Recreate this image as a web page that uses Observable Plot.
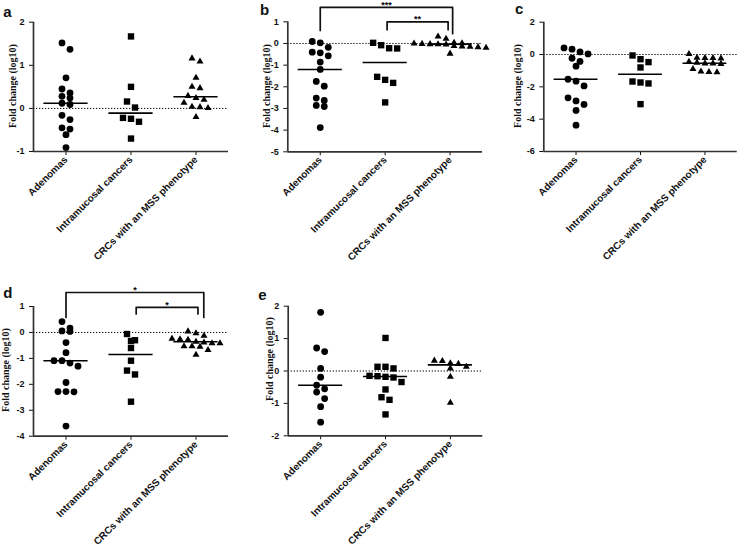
<!DOCTYPE html>
<html><head><meta charset="utf-8">
<script src="https://cdn.jsdelivr.net/npm/d3@7"></script>
<script src="https://cdn.jsdelivr.net/npm/@observablehq/plot@0.6"></script>
<style>
body{margin:0;background:#fff;}
#wrap{position:relative;width:738px;height:546px;overflow:hidden;background:#fff;}
.panel{position:absolute;}
.letter{position:absolute;font-family:"Liberation Sans",Arial,sans-serif;font-weight:bold;font-size:15px;line-height:1;color:#111;}
.ylab{position:absolute;font-family:"Liberation Serif","Times New Roman",serif;font-weight:bold;font-size:10px;line-height:1;color:#111;white-space:nowrap;transform:translate(-50%,-50%) rotate(-90deg);}
svg{overflow:visible;}
</style></head><body><div id="wrap"></div>
<script>
// ---- data ----
const groups = ["Adenomas", "Intramucosal cancers", "CRCs with an MSS phenotype"];
const yLabel = "Fold change (log10)";

const aAdenomas = [1.52, 1.37, 0.71, 0.45, 0.36, 0.28, 0.24, 0.12, 0.09, -0.16, -0.26, -0.45, -0.48, -0.61, -0.91];
const aIntramucosal = [1.67, 0.50, 0.16, 0.02, -0.22, -0.24, -0.31, -0.70];
const aCRC = [1.16, 1.09, 0.71, 0.50, 0.47, 0.29, 0.24, 0.20, 0.13, 0.04, 0.03, 0.01, -0.20];
const aMedians = [0.12, -0.11, 0.27];
const aTicks = [-1, 0, 1, 2];

const bAdenomas = [0.09, 0.03, -0.18, -0.40, -0.43, -0.57, -0.86, -1.20, -1.75, -1.97, -2.52, -2.63, -2.86, -2.91, -3.88];
const bIntramucosal = [0.03, -0.08, -0.22, -0.23, -1.54, -1.68, -1.82, -2.72];
const bCRC = [0.32, 0.22, 0.03, 0.01, 0.0, -0.02, -0.03, -0.04, -0.05, -0.12, -0.14, -0.15, -0.17, -0.20, -0.47];
const bMedians = [-1.20, -0.88, -0.03];
const bTicks = [-5, -4, -3, -2, -1, 0, 1];
const bBrackets = [
  {from: 0, to: 2.04, top: 1.67, endFrom: 0.6, endTo: 0.45, label: "***"},
  {from: 1.03, to: 1.97, top: 1.0, endFrom: 0.63, endTo: 0.63, label: "**"}
];

const cAdenomas = [0.41, 0.33, 0.16, 0.04, -0.23, -0.43, -0.72, -1.53, -1.65, -1.94, -2.68, -2.87, -3.09, -3.46, -4.37];
const cIntramucosal = [-0.06, -0.29, -0.47, -0.80, -1.67, -1.73, -1.79, -3.07];
const cCRC = [0.03, -0.20, -0.22, -0.22, -0.24, -0.45, -0.50, -0.55, -0.55, -0.58, -0.90, -1.05, -1.08, -1.10];
const cMedians = [-1.53, -1.22, -0.54];
const cTicks = [-6, -4, -2, 0, 2];

const dAdenomas = [0.42, 0.17, 0.06, 0.04, -0.39, -0.78, -1.09, -1.09, -1.18, -1.30, -1.93, -2.28, -2.28, -2.29, -3.61];
const dIntramucosal = [-0.06, -0.30, -0.33, -0.60, -1.09, -1.47, -1.62, -2.67];
const dCRC = [0.04, -0.03, -0.13, -0.24, -0.26, -0.28, -0.36, -0.39, -0.42, -0.42, -0.53, -0.53, -0.55, -0.68, -0.86];
const dMedians = [-1.09, -0.85, -0.36];
const dTicks = [-4, -3, -2, -1, 0, 1];
const dBrackets = [
  {from: 0, to: 2.12, top: 1.54, endFrom: 0.58, endTo: 0.58, label: "*"},
  {from: 1.08, to: 2.03, top: 0.97, endFrom: 0.71, endTo: 0.71, label: "*"}
];

const eAdenomas = [1.81, 0.71, 0.60, 0.08, -0.19, -0.44, -0.55, -0.65, -0.85, -1.10, -1.58];
const eIntramucosal = [1.02, 0.13, 0.13, 0.08, -0.15, -0.16, -0.18, -0.20, -0.34, -0.57, -0.81, -0.89, -1.34];
const eCRC = [0.32, 0.31, 0.24, 0.22, 0.13, 0.08, -0.18, -0.98];
const eMedians = [-0.44, -0.17, 0.19];
const eTicks = [-2, -1, 0, 1, 2];

// ---- layout ----
const SANS = "Liberation Sans, Arial, sans-serif";
const ROW = 6.8, SPACING = 8;
const symbols = [{symbol: "circle", r: 3.4}, {symbol: "square", r: 3.6}, {symbol: "triangle", r: 2.6}];
const wrap = document.getElementById("wrap");

function panel(cfg) {
  const {left, top, width, height, mL, mR, mT, mB, ticks, series, medians, brackets, labelX, labelY} = cfg;
  const domain = [ticks[0], ticks[ticks.length - 1]];
  const yPx = d3.scaleLinear(domain, [height - mB, mT]);
  const band = (width - mL - mR) / 3;
  const pts = [];
  series.forEach((vals, gi) => {
    const sorted = vals.slice().sort((a, b) => b - a);
    const rows = [];
    for (const v of sorted) {
      const py = yPx(v);
      const row = rows[rows.length - 1];
      if (row && Math.abs(py - row.y0) < ROW) row.items.push(v);
      else rows.push({y0: py, items: [v]});
    }
    for (const row of rows) {
      const n = row.items.length;
      row.items.forEach((v, i) => pts.push({g: gi, v, x: gi + (i - (n - 1) / 2) * SPACING / band}));
    }
  });
  const med = medians.map((m, g) => ({g, m}));
  const marks = [
    Plot.ruleY([0], {x1: -0.5, x2: 2.5, stroke: "#000", strokeWidth: 1, strokeDasharray: "1.3,1.7"}),
    Plot.ruleY(med, {y: "m", x1: d => d.g - 0.34, x2: d => d.g + 0.34, stroke: "#000", strokeWidth: 1.6}),
    ...symbols.map((s, gi) => Plot.dot(pts.filter(p => p.g === gi), {x: "x", y: "v", r: s.r, symbol: s.symbol, fill: "#000", stroke: "none"})),
    Plot.ruleX([-0.5], {y1: domain[0], y2: domain[1], stroke: "#333", strokeWidth: 1.7}),
    Plot.ruleY([domain[0]], {x1: -0.5, x2: 2.5, stroke: "#333", strokeWidth: 1.7}),
    Plot.text(groups.map((g, i) => ({g, i})), {x: "i", y: () => domain[0], text: "g", rotate: -45, textAnchor: "end",
      lineAnchor: "middle", dx: 0, dy: 6.5, fontSize: 10, fontWeight: "bold", fontFamily: SANS, fill: "#111"})
  ];
  if (brackets) {
    const bpts = [];
    brackets.forEach((b, i) => {
      bpts.push({id: i, x: b.from, y: b.endFrom}, {id: i, x: b.from, y: b.top}, {id: i, x: b.to, y: b.top}, {id: i, x: b.to, y: b.endTo});
    });
    marks.push(Plot.line(bpts, {x: "x", y: "y", z: "id", stroke: "#111", strokeWidth: 1.7, curve: "linear"}));
    marks.push(Plot.text(brackets, {x: d => (d.from + d.to) / 2, y: "top", text: "label", dy: -2.5, fontSize: 9, fontWeight: "bold", fontFamily: SANS, fill: "black"}));
  }
  const svg = Plot.plot({
    width, height,
    marginLeft: mL, marginRight: mR, marginTop: mT, marginBottom: mB,
    style: {fontSize: "9px", fontWeight: "bold", fontFamily: SANS, background: "transparent", color: "#111", overflow: "visible"},
    x: {type: "linear", domain: [-0.5, 2.5], ticks: [0, 1, 2], tickFormat: () => "", tickSize: 4, label: null},
    y: {domain, ticks, tickFormat: d => String(d), tickSize: 4, label: null},
    marks
  });
  const div = document.createElement("div");
  div.className = "panel";
  div.style.left = left + "px";
  div.style.top = top + "px";
  div.appendChild(svg);
  wrap.appendChild(div);
  const lab = document.createElement("div");
  lab.className = "ylab";
  lab.textContent = yLabel;
  lab.style.left = labelX + "px";
  lab.style.top = labelY + "px";
  wrap.appendChild(lab);
}

panel({left: 0, top: 0, width: 245, height: 270, mL: 33, mR: 17, mT: 21.7, mB: 119, ticks: aTicks,
  series: [aAdenomas, aIntramucosal, aCRC], medians: aMedians, labelX: 13.3, labelY: 85.8});
panel({left: 245, top: 0, width: 250, height: 270, mL: 42.3, mR: 13, mT: 21.3, mB: 118.7, ticks: bTicks,
  series: [bAdenomas, bIntramucosal, bCRC], medians: bMedians, brackets: bBrackets, labelX: 266.7, labelY: 85.8});
panel({left: 495, top: 0, width: 243, height: 270, mL: 48.3, mR: 1.3, mT: 21.7, mB: 119, ticks: cTicks,
  series: [cAdenomas, cIntramucosal, cCRC], medians: cMedians, labelX: 518.3, labelY: 85.8});
panel({left: 0, top: 270, width: 245, height: 276, mL: 33, mR: 17, mT: 36, mB: 110.3, ticks: dTicks,
  series: [dAdenomas, dIntramucosal, dCRC], medians: dMedians, brackets: dBrackets, labelX: 6, labelY: 370});
panel({left: 245, top: 270, width: 250, height: 276, mL: 42.7, mR: 12.7, mT: 35.7, mB: 110.7, ticks: eTicks,
  series: [eAdenomas, eIntramucosal, eCRC], medians: eMedians, labelX: 270, labelY: 359});

const letters = [
  {t: "a", x: 3.3, base: 16.7}, {t: "b", x: 260, base: 15}, {t: "c", x: 515, base: 14},
  {t: "d", x: 3.3, base: 297.3}, {t: "e", x: 258.3, base: 299.3}
];
for (const l of letters) {
  const s = document.createElement("div");
  s.className = "letter";
  s.textContent = l.t;
  s.style.left = l.x + "px";
  s.style.top = (l.base - 0.8465 * 15) + "px";
  wrap.appendChild(s);
}
</script></body></html>
